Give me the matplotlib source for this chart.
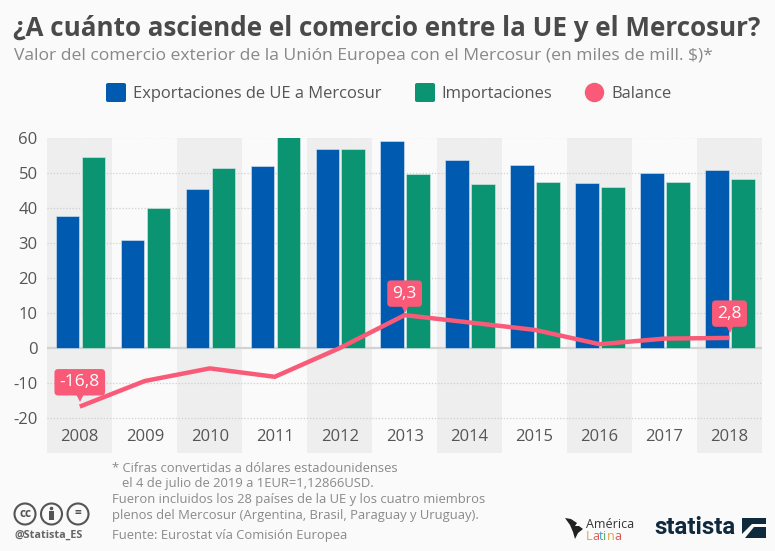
import numpy as np
import matplotlib
matplotlib.use("Agg")
import matplotlib.pyplot as plt
from matplotlib.patches import FancyBboxPatch, Circle, Polygon, Rectangle
from matplotlib.transforms import offset_copy

# ── Data ───────────────────────────────────────────────────────
years = ["2008", "2009", "2010", "2011", "2012", "2013", "2014", "2015", "2016", "2017", "2018"]
exports = [37.6, 30.8, 45.4, 51.8, 56.8, 58.9, 53.6, 52.2, 47.0, 50.0, 50.8]
imports = [54.5, 40.0, 51.3, 60.0, 56.6, 49.6, 46.6, 47.4, 46.0, 47.4, 48.1]
balance = [-16.8, -9.5, -5.9, -8.3, -0.1, 9.3, 7.2, 5.1, 1.0, 2.6, 2.8]
labelled = {0: "-16,8", 5: "9,3", 10: "2,8"}
yticks = [-20, -10, 0, 10, 20, 30, 40, 50, 60]

BLUE = "#005ab0"
GREEN = "#0a9472"
PINK = "#f95a78"
BG = "#fafafa"
W, H = 775, 551

plt.rcParams["font.family"] = ["Open Sans", "DejaVu Sans"]

fig = plt.figure(figsize=(W / 100, H / 100), dpi=100, facecolor=BG)
ax = fig.add_axes([47.3 / W, 1 - 453 / H, (762 - 47.3) / W, (453 - 137.5) / H])
ax.set_facecolor("none")
ax.set_xlim(-0.5, 10.5)
ax.set_ylim(-30.05, 60)


def ftext(x, y, s, **kw):
    # figure text placed in pixels from the top left
    return fig.text(x / W, 1 - y / H, s, **kw)


def fpatch(p):
    fig.add_artist(p)
    return p


# ── Bands, grid, bars ──────────────────────────────────────────
for i in range(0, len(years), 2):
    ax.axvspan(i - 0.5, i + 0.5, color="#eeeeee", lw=0, zorder=0)
for t in yticks:
    if t != 0:
        ax.axhline(t, color="#cfcfcf", lw=0.9, ls=(0, (1, 1.5)), zorder=1)
ax.axhline(0, color="#d2d2d2", lw=1.6, zorder=1)

x = np.arange(len(years))
ax.bar(x - 0.192, exports, 0.36, color=BLUE, edgecolor="#dfe9f3", lw=0.4, zorder=2)
ax.bar(x + 0.208, imports, 0.36, color=GREEN, edgecolor="#dcefe9", lw=0.4, zorder=2)
ax.plot(x, balance, color=PINK, lw=3.2, zorder=3, solid_capstyle="butt", solid_joinstyle="miter")

# ── Callouts ───────────────────────────────────────────────────
for i, txt in labelled.items():
    up = 17.5 if i != 5 else 15.5
    ax.annotate(txt, (x[i], balance[i]), xytext=(0, up), textcoords="offset points",
                ha="center", va="center", color="white", fontsize=12.5, zorder=6,
                bbox=dict(boxstyle="round,pad=0.3,rounding_size=0.22",
                          fc=PINK, ec="none"))
    tr = offset_copy(ax.transData, fig=fig, x=0, y=up - 10.5, units="points")
    ax.plot(x[i], balance[i], marker="v", ms=6.5, color=PINK, mew=0, transform=tr, zorder=5)

# ── Axes text ──────────────────────────────────────────────────
for s in ax.spines.values():
    s.set_visible(False)
ax.set_xticks(x, years)
ax.set_yticks(yticks, [str(t) for t in yticks])
ax.tick_params(length=0, labelsize=12, labelcolor="#555555")
ax.tick_params(axis="y", pad=7)
for lab in ax.get_xticklabels():
    lab.set_transform(ax.get_xaxis_transform())
    lab.set_verticalalignment("center")
    lab.set_position((lab.get_position()[0], 0.052))

# ── Header and legend ──────────────────────────────────────────
ftext(13, 28, "¿A cuánto asciende el comercio entre la UE y el Mercosur?",
      fontsize=18.75, fontweight="bold", color="#4a4a4a", va="center")
ftext(14, 56, "Valor del comercio exterior de la Unión Europea con el Mercosur (en miles de mill. $)*",
      fontsize=12.6, color="#888888", va="center")

for left, col in [(106, BLUE), (415, GREEN)]:
    fpatch(FancyBboxPatch((left / W, 1 - 102 / H), 20 / W, 19 / H,
                          boxstyle="round,pad=0,rounding_size=0.003",
                          transform=fig.transFigure, fc=col, ec="none"))
fpatch(plt.Line2D([593.5 / W], [1 - 92.5 / H], marker="o", ms=14, color=PINK, mew=0,
                  transform=fig.transFigure))
for left, s in [(133, "Exportaciones de UE a Mercosur"), (441, "Importaciones"), (611, "Balance")]:
    ftext(left, 93.5, s, fontsize=11.85, color="#555555", va="center")

# ── Footer ─────────────────────────────────────────────────────
notes = [(112, 468, "* Cifras convertidas a dólares estadounidenses"),
         (122, 483, "el 4 de julio de 2019 a 1EUR=1,12866USD."),
         (112, 499, "Fueron incluidos los 28 países de la UE y los cuatro miembros"),
         (112, 515, "plenos del Mercosur (Argentina, Brasil, Paraguay y Uruguay)."),
         (112, 535, "Fuente: Eurostat vía Comisión Europea")]
for nx, ny, s in notes:
    ftext(nx, ny, s, fontsize=9.4, color="#8a8a8a", va="center")

# cc badges
icons = fig.add_axes([0, 0, 1, 1], facecolor="none")
icons.set_xlim(0, W)
icons.set_ylim(H, 0)
icons.axis("off")
for cx, s in [(25, "cc"), (51.5, ""), (78, "=")]:
    icons.add_patch(Circle((cx, 514), 10.5, fc="none", ec="#555555", lw=1.5))
    if s:
        icons.text(cx, 513.5, s, ha="center", va="center", fontsize=8.5,
                   fontweight="bold", color="#555555")
icons.add_patch(Circle((51.5, 508.5), 1.8, fc="#555555", ec="none"))
icons.add_patch(Rectangle((49, 511), 5, 9, fc="#555555", ec="none"))
ftext(14, 535, "@Statista_ES", fontsize=7.8, fontweight="bold", color="#666666", va="center")

# logos
icons.add_patch(Polygon([(565, 518), (571, 519), (577, 523), (575, 526), (579, 526),
                         (583, 529), (578, 533), (575, 539), (573, 532), (570, 525)],
                        fc="#222222", ec="none"))
ftext(586, 524, "América", fontsize=9, color="#333333", va="center")
for ch_x, ch, col in [(586, "L", "#e8a33d"), (592.5, "a", "#e0584f"), (599, "t", "#3aa0c9"),
                      (603, "i", "#4caf6d"), (606.5, "n", "#e8a33d"), (614, "a", "#d9534f")]:
    ftext(ch_x, 537, ch, fontsize=9, color=col, va="center")
ftext(654, 528, "statista", fontsize=17.4, fontweight="bold", color="#0f2a3d", va="center",
      family=["Roboto", "Open Sans"])
icons.add_patch(Rectangle((742, 518), 24, 20, fc="#0f2a3d", ec="none"))
icons.add_patch(Polygon([(742, 534), (752, 524), (766, 524), (766, 527), (754, 527), (745, 538), (742, 538)],
                        fc=BG, ec="none"))

fig.savefig("out.png", dpi=100, facecolor=BG)
